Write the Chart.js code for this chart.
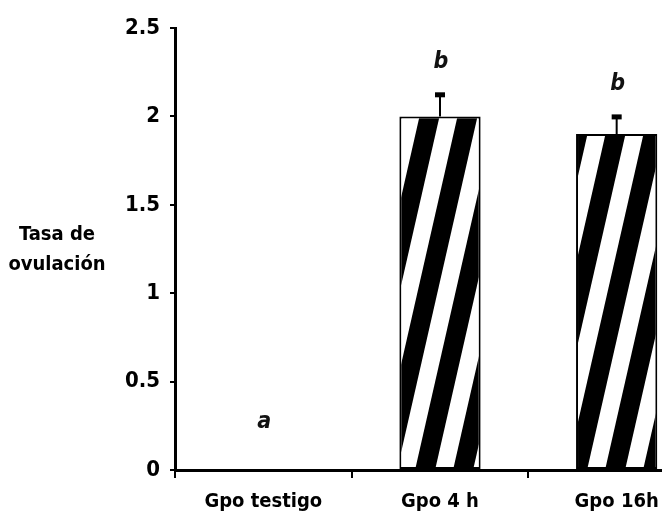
<!DOCTYPE html>
<html>
<head>
<meta charset="utf-8">
<script src="https://cdn.jsdelivr.net/npm/chart.js@4.4.1/dist/chart.umd.min.js"></script>
<style>
  html, body { margin: 0; padding: 0; background: #fff; overflow: hidden; }
  #wrap { width: 662px; height: 524px; overflow: hidden; }
</style>
</head>
<body>
<div id="wrap">
  <canvas id="ovChart" width="720" height="524"></canvas>
</div>
<script>
// data
const categories = ["Gpo testigo", "Gpo 4 h", "Gpo 16h"];
const means = [0, 2.0, 1.9];
const errors = [null, 0.125, 0.1];
const letters = ["a", "b", "b"];
const yTicks = [0, 0.5, 1, 1.5, 2, 2.5];
const yTitle = ["Tasa de", "ovulación"];

const FONT = "'Liberation Sans Narrow', 'Arial Narrow', 'DejaVu Sans Condensed', sans-serif";

// diagonal black/white stripes for the bars
function stripePattern() {
  const w = 38, h = 167;
  const tile = document.createElement("canvas");
  tile.width = w;
  tile.height = h;
  const c = tile.getContext("2d");
  c.fillStyle = "#fff";
  c.fillRect(0, 0, w, h);
  c.fillStyle = "#000";
  const a = 28;
  for (let k = -2; k <= 2; k++) {
    const x = a + k * w;
    c.beginPath();
    c.moveTo(x, 0);
    c.lineTo(x + 20, 0);
    c.lineTo(x + 20 - w, h);
    c.lineTo(x - w, h);
    c.closePath();
    c.fill();
  }
  return c.createPattern(tile, "repeat");
}

const ctx = document.getElementById("ovChart").getContext("2d");

// error bars, significance letters and the horizontal y title
const extras = {
  id: "extras",
  afterDatasetsDraw(chart) {
    const { ctx } = chart;
    const xs = chart.scales.x, ys = chart.scales.y;
    ctx.save();
    means.forEach((m, i) => {
      const x = xs.getPixelForValue(i);
      const e = errors[i];
      let top = ys.getPixelForValue(m);
      if (e) {
        const yTop = ys.getPixelForValue(m + e);
        ctx.strokeStyle = "#000";
        ctx.lineWidth = 2;
        ctx.beginPath();
        ctx.moveTo(x, top);
        ctx.lineTo(x, yTop);
        ctx.stroke();
        ctx.fillStyle = "#000";
        ctx.fillRect(x - 5, yTop - 2, 10, 5);
        top = yTop;
      }
      ctx.fillStyle = "#111";
      ctx.font = "italic bold 23px " + FONT;
      ctx.textAlign = "center";
      ctx.textBaseline = "middle";
      ctx.fillText(letters[i], x + 1, top - (e ? 32 : 48));
    });
    ctx.fillStyle = "#000";
    ctx.font = "bold 20px " + FONT;
    ctx.textAlign = "center";
    ctx.textBaseline = "middle";
    ctx.fillText(yTitle[0], 57, 235);
    ctx.fillText(yTitle[1], 57, 265);
    ctx.restore();
  }
};

new Chart(ctx, {
  type: "bar",
  data: {
    labels: categories,
    datasets: [
      {
        data: means,
        backgroundColor: stripePattern(),
        borderColor: "#000",
        borderWidth: 2,
        borderSkipped: false,
        barPercentage: 0.46,
        categoryPercentage: 1.0,
      },
    ],
  },
  options: {
    responsive: false,
    animation: false,
    layout: { padding: { top: 28, right: 15, left: 0, bottom: 0 } },
    plugins: {
      legend: { display: false },
      tooltip: { enabled: false },
    },
    scales: {
      x: {
        grid: {
          offset: true,
          drawOnChartArea: false,
          drawTicks: true,
          tickLength: 8,
          color: "#000",
          lineWidth: 2,
        },
        border: { color: "#000", width: 3 },
        ticks: {
          color: "#000",
          padding: 12,
          font: { family: FONT, size: 20, weight: "bold" },
        },
        afterFit: (s) => { s.height = 54; },
      },
      y: {
        min: 0,
        max: 2.5,
        afterBuildTicks: (s) => { s.ticks = yTicks.map((v) => ({ value: v })); },
        grid: {
          drawOnChartArea: false,
          drawTicks: true,
          tickLength: 5,
          color: "#000",
          lineWidth: 2,
        },
        border: { color: "#000", width: 3 },
        ticks: {
          color: "#000",
          padding: 10,
          font: { family: FONT, size: 22, weight: "bold" },
          callback: (v) => String(v),
        },
        afterFit: (s) => { s.width = 175; },
      },
    },
  },
  plugins: [extras],
});
</script>
</body>
</html>
